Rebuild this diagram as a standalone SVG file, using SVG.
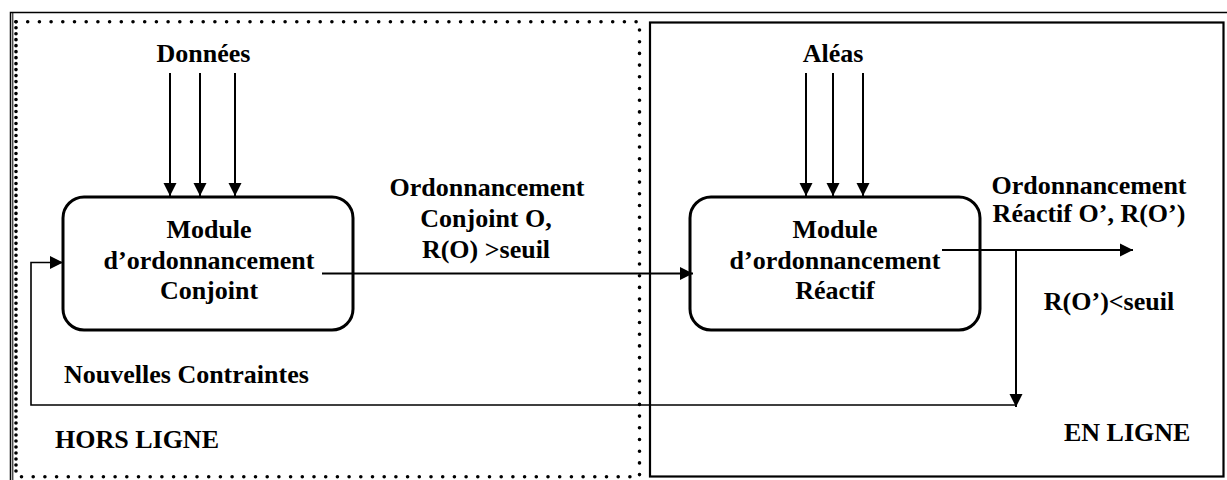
<svg xmlns="http://www.w3.org/2000/svg" width="1227" height="480" viewBox="0 0 1227 480">
<style>
text{font-family:"Liberation Serif","Times New Roman",serif;font-weight:bold;font-size:26px;fill:#000}
.c{text-anchor:middle}
.mod{fill:#fff;stroke:#000;stroke-width:3}
.ln{fill:none;stroke:#000;stroke-width:2}
.fb{fill:none;stroke:#000;stroke-width:1.6}
.dots{fill:none;stroke:#000;stroke-width:3.6;stroke-linecap:round;stroke-dasharray:0 11.7}
.dense{stroke-dasharray:0 5.99}
</style>
<defs>
<marker id="ah" markerUnits="userSpaceOnUse" markerWidth="16" markerHeight="16" viewBox="0 0 16 16" refX="14" refY="8" orient="auto">
<path d="M1,1.5 L14,8 L1,14.5 Z" fill="#000"/>
</marker>
</defs>
<rect width="1227" height="480" fill="#fff"/>
<g id="frame">
<path d="M1227,12.5 H10.5 V480" fill="none" stroke="#000" stroke-width="1.5"/>
<path d="M12.8,12.5 V480" fill="none" stroke="#000" stroke-width="1"/>
</g>
<g id="hors-ligne">
<path class="dots" d="M16,21.7 H639.5 V476.7 H16"/>
<path class="dots dense" d="M16,21.7 V476.7"/>
<text x="55" y="448">HORS LIGNE</text>
</g>
<g id="en-ligne">
<rect x="650" y="22.5" width="573.5" height="454" fill="none" stroke="#000" stroke-width="2.2"/>
<text x="1064" y="441">EN LIGNE</text>
</g>
<g id="donnees"><text class="c" x="203.5" y="62">Données</text></g>
<g id="aleas"><text class="c" x="833" y="62">Aléas</text></g>
<g id="module-conjoint">
<rect class="mod" x="63" y="197" width="290" height="133" rx="21"/>
<text class="c" x="209" y="238">Module</text>
<text class="c" x="209" y="269">d’ordonnancement</text>
<text class="c" x="209" y="299">Conjoint</text>
</g>
<g id="module-reactif">
<rect class="mod" x="690" y="197" width="290" height="133" rx="21"/>
<text class="c" x="835" y="238">Module</text>
<text class="c" x="835" y="269">d’ordonnancement</text>
<text class="c" x="835" y="299">Réactif</text>
</g>
<g id="label-conjoint">
<text class="c" x="487" y="196">Ordonnancement</text>
<text class="c" x="486" y="227">Conjoint O,</text>
<text class="c" x="486" y="258">R(O) &gt;seuil</text>
</g>
<g id="label-reactif">
<text class="c" x="1089" y="194">Ordonnancement</text>
<text class="c" x="1089" y="222">Réactif O’, R(O’)</text>
</g>
<g id="label-seuil"><text class="c" x="1109" y="310">R(O’)&lt;seuil</text></g>
<g id="label-contraintes"><text x="64" y="383">Nouvelles Contraintes</text></g>
<g id="connectors">
<line class="ln" x1="170" y1="73" x2="170" y2="196" marker-end="url(#ah)"/>
<line class="ln" x1="200" y1="73" x2="200" y2="196" marker-end="url(#ah)"/>
<line class="ln" x1="235" y1="73" x2="235" y2="196" marker-end="url(#ah)"/>
<line class="ln" x1="806" y1="73" x2="806" y2="196" marker-end="url(#ah)"/>
<line class="ln" x1="833" y1="73" x2="833" y2="196" marker-end="url(#ah)"/>
<line class="ln" x1="863" y1="73" x2="863" y2="196" marker-end="url(#ah)"/>
<line class="ln" x1="322" y1="273.5" x2="693" y2="273.5" marker-end="url(#ah)"/>
<line class="ln" x1="942" y1="250" x2="1133" y2="250" marker-end="url(#ah)"/>
<line class="ln" x1="1016" y1="250" x2="1016" y2="407" marker-end="url(#ah)"/>
<polyline class="fb" points="1016,405 31,405 31,262.5 63,262.5" marker-end="url(#ah)"/>
</g>
</svg>
